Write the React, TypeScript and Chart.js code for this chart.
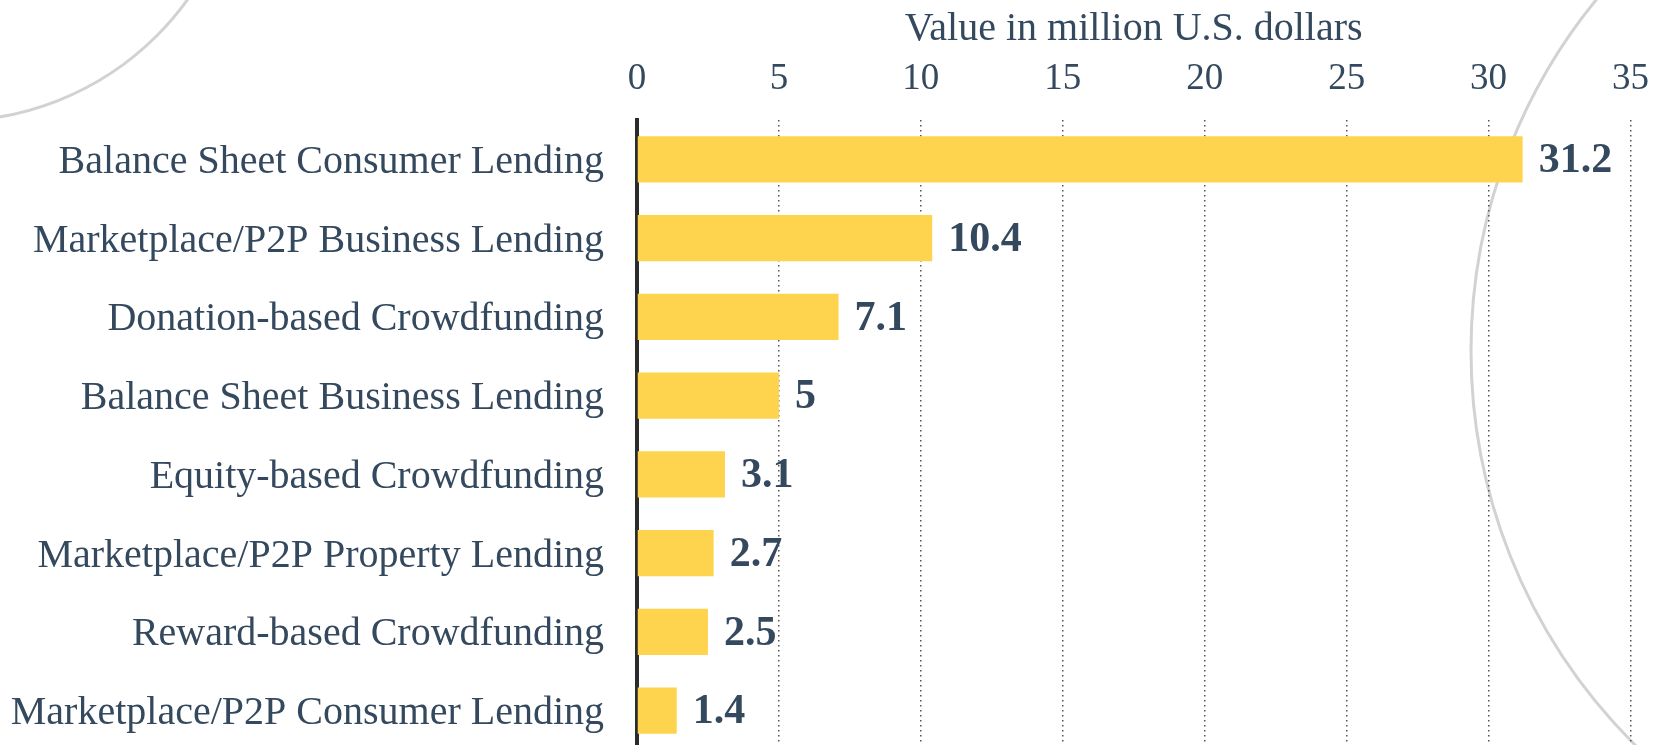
import React, { useEffect, useRef } from "react";
import { Chart, registerables } from "chart.js";

Chart.register(...registerables);

const categories = [
  "Balance Sheet Consumer Lending",
  "Marketplace/P2P Business Lending",
  "Donation-based Crowdfunding",
  "Balance Sheet Business Lending",
  "Equity-based Crowdfunding",
  "Marketplace/P2P Property Lending",
  "Reward-based Crowdfunding",
  "Marketplace/P2P Consumer Lending",
];
const values = [31.2, 10.4, 7.1, 5, 3.1, 2.7, 2.5, 1.4];
const xTicks = [0, 5, 10, 15, 20, 25, 30, 35];
const axisTitle = "Value in million U.S. dollars";

const FONT = "'Liberation Serif', 'Times New Roman', serif";
const TEXT = "#34495e";
const BAR = "#fed44e";
const W = 1668;
const H = 750;

const bgPlugin = {
  id: "bgDecor",
  beforeDraw(chart: any) {
    const { ctx, width, height } = chart;
    ctx.save();
    ctx.fillStyle = "#ffffff";
    ctx.fillRect(0, 0, width, height);
    ctx.strokeStyle = "rgba(205,205,205,0.9)";
    ctx.lineWidth = 3;
    ctx.beginPath();
    ctx.arc(-49, -170, 291, 0, Math.PI * 2);
    ctx.stroke();
    ctx.beginPath();
    ctx.arc(2026, 351, 555, 0, Math.PI * 2);
    ctx.stroke();
    ctx.restore();
  },
};

const valueLabelPlugin = {
  id: "valueLabels",
  afterDatasetsDraw(chart: any) {
    const { ctx } = chart;
    const meta = chart.getDatasetMeta(0);
    ctx.save();
    ctx.font = `bold 42px ${FONT}`;
    ctx.fillStyle = TEXT;
    ctx.textAlign = "left";
    ctx.textBaseline = "middle";
    meta.data.forEach((bar: any, i: number) => {
      ctx.fillText(String(values[i]), bar.x + 16, bar.y + 2);
    });
    ctx.restore();
  },
};

export default function App() {
  const ref = useRef<HTMLCanvasElement | null>(null);

  useEffect(() => {
    document.body.style.margin = "0";
    document.documentElement.style.overflow = "hidden";
    if (!ref.current) return;
    const chart = new Chart(ref.current, {
      type: "bar",
      data: {
        labels: categories,
        datasets: [
          {
            data: values,
            backgroundColor: BAR,
            borderWidth: 0,
            categoryPercentage: 1,
            barPercentage: 0.585,
          },
        ],
      },
      options: {
        indexAxis: "y",
        animation: false,
        responsive: false,
        devicePixelRatio: 1,
        layout: { padding: { left: 0, right: 36, top: 0, bottom: 0 } },
        plugins: {
          legend: { display: false },
          tooltip: { enabled: false },
          title: { display: false },
        },
        scales: {
          x: {
            type: "linear",
            position: "top",
            min: 0,
            max: 35,
            afterBuildTicks: (scale: any) => {
              scale.ticks = xTicks.map((v) => ({ value: v }));
            },
            afterFit: (scale: any) => {
              scale.height = 120;
            },
            ticks: {
              font: { family: FONT, size: 37 },
              color: TEXT,
              padding: 19,
              maxRotation: 0,
            },
            grid: {
              display: true,
              drawTicks: false,
              color: "#555555",
              lineWidth: 1.5,
            },
            border: { display: false, dash: [1.5, 3.5] },
            title: {
              display: true,
              text: axisTitle,
              font: { family: FONT, size: 40 },
              color: TEXT,
              padding: { top: 5, bottom: 0 },
            },
          },
          y: {
            type: "category",
            afterFit: (scale: any) => {
              scale.width = 637;
              scale.paddingTop = 0;
              scale.paddingBottom = 0;
            },
            ticks: {
              font: { family: FONT, size: 40 },
              color: TEXT,
              padding: 33,
              labelOffset: 3,
            },
            grid: { display: false, drawTicks: false },
            border: { display: true, color: "#2b2b2b", width: 4 },
          },
        },
      },
      plugins: [bgPlugin, valueLabelPlugin],
    });
    return () => chart.destroy();
  }, []);

  return (
    <div style={{ width: W, height: 745, overflow: "hidden", position: "relative", background: "#fff" }}>
      <canvas
        ref={ref}
        width={W}
        height={H}
        style={{ width: W, height: H, display: "block", position: "absolute", left: 0, top: 0 }}
      />
    </div>
  );
}
